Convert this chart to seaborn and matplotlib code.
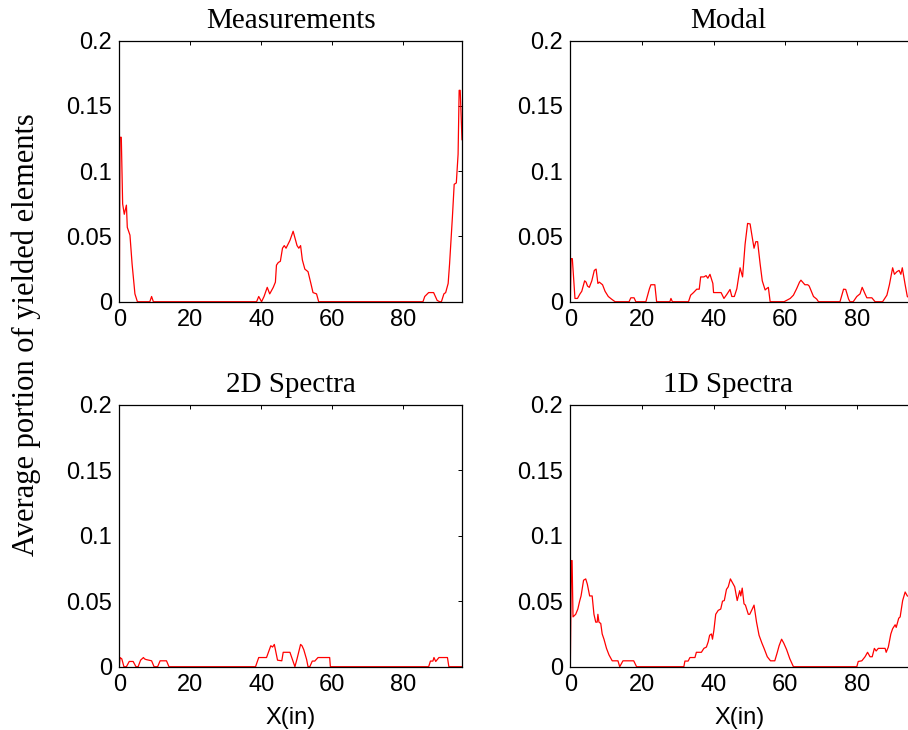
import numpy as np
import pandas as pd
import matplotlib
matplotlib.use('Agg')
import matplotlib.pyplot as plt
import seaborn as sns

# ---- data (x in inches, y = portion of yielded elements)
meas_x = [0, 0.19, 0.56, 0.94, 1.4, 2.0, 2.25, 3.0, 3.6, 4.4,
          5.1, 8.6, 9.1, 9.6, 38.7, 39.3, 40.1, 40.8, 41.7, 42.4,
          43.4, 44.0, 44.3, 44.8, 45.4, 46.0, 46.5, 47.0, 48.1, 49.0,
          49.6, 50.1, 50.6, 51.1, 51.6, 52.3, 53.2, 54.0, 54.6, 55.6,
          56.2, 85.6, 86.1, 87.2, 88.6, 89.6, 90.3, 90.8, 91.5, 92.0,
          92.7, 93.1, 93.9, 94.4, 95.0, 95.5, 95.8, 96.1, 96.6]
meas_y = [0, 0.126, 0.126, 0.075, 0.067, 0.074, 0.057, 0.051, 0.029, 0.006,
          0, 0, 0.004, 0, 0, 0.004, 0, 0.004, 0.011, 0.006,
          0.011, 0.015, 0.028, 0.030, 0.031, 0.041, 0.043, 0.041, 0.047, 0.054,
          0.048, 0.043, 0.041, 0.043, 0.032, 0.025, 0.023, 0.014, 0.007, 0.006,
          0, 0, 0.004, 0.007, 0.007, 0.001, 0, 0, 0.006, 0.007,
          0.014, 0.029, 0.065, 0.090, 0.091, 0.113, 0.162, 0.162, 0.124]

modal_x = [0, 0.2, 0.56, 1.3, 2.0, 2.7, 3.2, 4.0, 4.4, 4.8,
           5.3, 6.0, 6.7, 7.2, 7.7, 8.1, 9.0, 9.7, 10.6, 11.5,
           12.5, 16.4, 16.9, 17.8, 18.3, 21.1, 22.1, 22.5, 23.6, 24.1,
           27.8, 28.1, 28.5, 33.0, 33.6, 34.4, 35.3, 36.0, 36.4, 37.3,
           37.9, 38.4, 39.0, 39.8, 40.0, 42.1, 42.9, 43.7, 44.6, 45.1,
           45.8, 46.5, 47.4, 48.1, 48.8, 49.5, 50.2, 50.7, 51.3, 51.8,
           52.3, 53.0, 53.6, 54.4, 54.8, 55.3, 55.8, 59.7, 61.4, 62.3,
           63.2, 64.0, 64.4, 65.5, 66.3, 66.7, 67.9, 68.8, 69.3, 75.3,
           76.3, 76.9, 77.7, 78.1, 79.0, 80.0, 80.9, 81.5, 82.3, 82.8,
           84.2, 85.1, 87.2, 88.4, 89.1, 90.0, 90.5, 91.2, 91.8, 92.3,
           92.7, 93.5, 94.1, 94.6, 96.6]
modal_y = [0, 0.033, 0.033, 0.0025, 0.0025, 0.006, 0.008, 0.016, 0.015, 0.012,
           0.011, 0.016, 0.024, 0.025, 0.014, 0.015, 0.013, 0.008, 0.004, 0.002,
           0, 0, 0.003, 0.003, 0, 0, 0.010, 0.013, 0.013, 0,
           0, 0.0025, 0, 0, 0.005, 0.007, 0.0096, 0.0096, 0.019, 0.019,
           0.020, 0.018, 0.021, 0.014, 0.007, 0.007, 0.0025, 0.0056, 0.0094, 0.004,
           0.004, 0.010, 0.026, 0.019, 0.044, 0.060, 0.0596, 0.051, 0.041, 0.046,
           0.046, 0.029, 0.016, 0.009, 0.010, 0.011, 0, 0, 0.0025, 0.005,
           0.010, 0.015, 0.0165, 0.013, 0.013, 0.012, 0.004, 0.002, 0, 0,
           0.0096, 0.0094, 0.002, 0, 0, 0.004, 0.006, 0.011, 0.006, 0.003,
           0.003, 0, 0, 0.005, 0.013, 0.026, 0.021, 0.023, 0.024, 0.021,
           0.026, 0.013, 0.004, 0.003, 0.003]

spec2d_x = [0, 0.2, 0.7, 1.3, 2.0, 2.8, 3.9, 4.7, 5.3, 6.0,
            6.8, 7.1, 7.5, 9.1, 9.8, 10.8, 11.5, 13.3, 14.0, 38.4,
            39.3, 41.5, 42.7, 43.2, 43.7, 44.6, 45.8, 46.2, 48.1, 49.5,
            50.1, 51.1, 51.5, 52.0, 52.8, 53.2, 53.7, 54.4, 55.1, 56.0,
            59.3, 59.5, 87.2, 87.7, 88.4, 88.7, 89.2, 90.1, 92.5, 92.9,
            96.6]
spec2d_y = [0, 0.007, 0.006, 0, 0, 0.004, 0.004, 0, 0, 0.005,
            0.007, 0.006, 0.0055, 0.0045, 0, 0, 0.0045, 0.0045, 0, 0,
            0.007, 0.007, 0.016, 0.015, 0.017, 0.005, 0.0045, 0.011, 0.011, 0,
            0.006, 0.017, 0.016, 0.013, 0.0055, 0, 0, 0.0043, 0.0043, 0.007,
            0.007, 0, 0, 0.0043, 0.0043, 0.007, 0.004, 0.007, 0.007, 0,
            0]

spec1d_x = [0, 0.3, 0.5, 0.75, 1.5, 2.1, 2.6, 3.0, 3.7, 4.3,
            4.75, 5.4, 6.1, 6.6, 7.1, 7.5, 7.7, 8.0, 8.5, 8.9,
            9.4, 10.1, 10.8, 11.7, 13.3, 13.8, 14.7, 17.7, 18.5, 31.7,
            32.0, 32.9, 33.4, 34.8, 35.2, 36.6, 37.3, 38.0, 38.5, 38.9,
            39.4, 39.7, 40.1, 40.6, 41.3, 42.0, 42.5, 43.0, 43.6, 44.1,
            44.7, 45.3, 45.9, 46.6, 47.3, 47.6, 48.0, 48.5, 48.9, 49.7,
            50.1, 50.8, 51.3, 52.0, 52.7, 53.5, 54.1, 55.0, 55.9, 57.1,
            57.8, 58.3, 59.0, 59.6, 60.4, 61.3, 62.3, 80.0, 80.4, 81.4,
            82.3, 83.0, 83.7, 84.3, 84.9, 85.4, 86.0, 87.9, 88.2, 88.8,
            89.5, 90.0, 90.7, 91.0, 91.7, 92.1, 92.8, 93.5, 94.1, 96.6]
spec1d_y = [0, 0.081, 0.081, 0.038, 0.040, 0.044, 0.050, 0.054, 0.066, 0.067,
            0.063, 0.054, 0.054, 0.040, 0.034, 0.034, 0.040, 0.034, 0.033, 0.025,
            0.021, 0.014, 0.009, 0.0045, 0.0045, 0, 0.0045, 0.0045, 0, 0,
            0.0043, 0.0043, 0.007, 0.007, 0.011, 0.011, 0.014, 0.015, 0.019, 0.024,
            0.025, 0.021, 0.028, 0.040, 0.043, 0.044, 0.050, 0.0505, 0.059, 0.061,
            0.067, 0.064, 0.061, 0.0505, 0.058, 0.054, 0.060, 0.048, 0.047, 0.040,
            0.040, 0.044, 0.047, 0.034, 0.024, 0.018, 0.014, 0.0076, 0.0045, 0.0045,
            0.011, 0.016, 0.021, 0.018, 0.013, 0.006, 0, 0, 0.004, 0.0045,
            0.0076, 0.011, 0.0076, 0.0076, 0.014, 0.012, 0.014, 0.014, 0.011, 0.015,
            0.025, 0.029, 0.032, 0.030, 0.037, 0.038, 0.0505, 0.057, 0.054, 0.052]

titles = ['Measurements', 'Modal', '2D Spectra', '1D Spectra']
y_ticks = [0, 0.05, 0.1, 0.15, 0.2]
y_tick_labels = ['0', '0.05', '0.1', '0.15', '0.2']
x_ticks = [0, 20, 40, 60, 80]

sns.set_style('white')
plt.rcParams['font.family'] = ['Liberation Sans', 'DejaVu Sans']
plt.rcParams.update({'text.color': 'black', 'axes.labelcolor': 'black',
                     'xtick.color': 'black', 'ytick.color': 'black'})

fig = plt.figure(figsize=(9.08, 7.30), dpi=100)

# axes boxes in figure fractions (right column runs past the figure edge, as in the source)
positions = [
    [0.1314, 0.5867, 0.3774, 0.3575],
    [0.6281, 0.5867, 0.3810, 0.3575],
    [0.1314, 0.0867, 0.3774, 0.3590],
    [0.6281, 0.0867, 0.3810, 0.3590],
]
# where the title / x label sit across each axes (right column is cropped in the source)
title_x = [0.5, 0.456, 0.5, 0.456]
xlabel_x = [0.5, 0.49, 0.5, 0.49]
series = [(meas_x, meas_y), (modal_x, modal_y),
          (spec2d_x, spec2d_y), (spec1d_x, spec1d_y)]

for i, (pos, (xs, ys), title) in enumerate(zip(positions, series, titles)):
    ax = fig.add_axes(pos)
    df = pd.DataFrame({'x': xs, 'y': ys})
    sns.lineplot(data=df, x='x', y='y', ax=ax, color='red', linewidth=0.9,
                 sort=False, estimator=None)
    ax.set_xlim(0, 96.6)
    ax.set_ylim(0, 0.2)
    ax.set_xticks(x_ticks)
    ax.set_yticks(y_ticks)
    ax.set_yticklabels(y_tick_labels)
    ax.tick_params(direction='in', length=3, width=0.7, labelsize=17,
                   top=True, right=True, pad=5, colors='black')
    for sp in ax.spines.values():
        sp.set_color('black')
        sp.set_linewidth(0.9)
    ax.set_title(title, family='Liberation Serif', fontsize=21, pad=9,
                 x=title_x[i], color='black')
    ax.set_ylabel('')
    if i >= 2:
        ax.set_xlabel('X(in)', fontsize=17, color='black')
        ax.xaxis.set_label_coords(xlabel_x[i], -0.153)
    else:
        ax.set_xlabel('')

fig.text(0.029, 0.541, 'Average portion of yielded elements', rotation=90,
         ha='center', va='center', family='Liberation Serif', fontsize=22,
         color='black')

fig.savefig('out.png', dpi=100)
